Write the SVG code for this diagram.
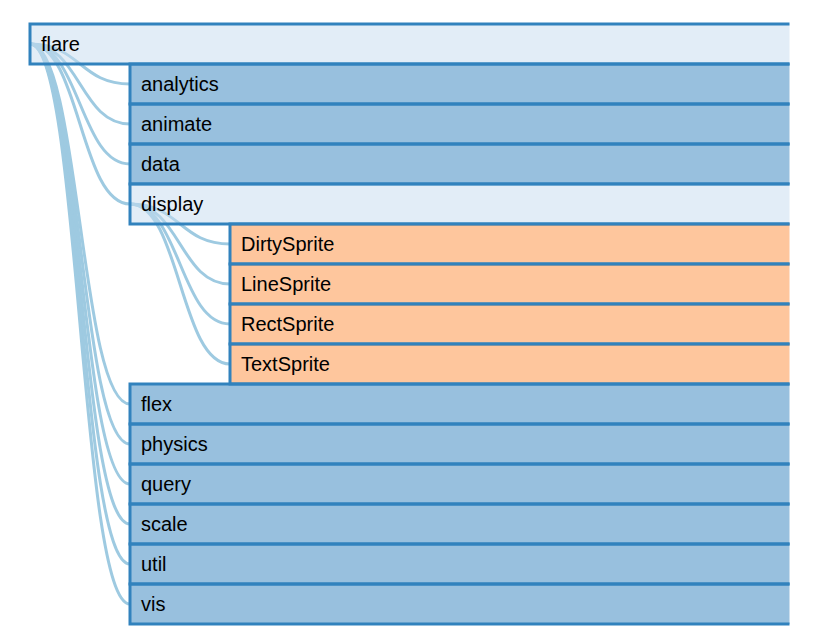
<svg xmlns="http://www.w3.org/2000/svg" width="816" height="642" viewBox="0 0 816 642">
<style>
.link{fill:none;stroke:#9ecae1;stroke-width:3}
.node rect{stroke:#3182bd;stroke-width:3;fill-opacity:0.5}
.exp rect{fill:#c6dbef}
.col rect{fill:#3182bd}
.leaf rect{fill:#fd8d3c}
.node text{font-family:"Liberation Sans",Arial,sans-serif;font-size:20px;fill:#000}
</style>
<defs>
<clipPath id="clip"><rect x="0" y="0" width="789.5" height="642"/></clipPath>
</defs>
<rect width="816" height="642" fill="#fff"/>
<g clip-path="url(#clip)">
<g id="links">
<path class="link" d="M30,44C80,44 80,84 130,84"/>
<path class="link" d="M30,44C80,44 80,124 130,124"/>
<path class="link" d="M30,44C80,44 80,164 130,164"/>
<path class="link" d="M30,44C80,44 80,204 130,204"/>
<path class="link" d="M130,204C180,204 180,244 230,244"/>
<path class="link" d="M130,204C180,204 180,284 230,284"/>
<path class="link" d="M130,204C180,204 180,324 230,324"/>
<path class="link" d="M130,204C180,204 180,364 230,364"/>
<path class="link" d="M30,44C80,44 80,404 130,404"/>
<path class="link" d="M30,44C80,44 80,444 130,444"/>
<path class="link" d="M30,44C80,44 80,484 130,484"/>
<path class="link" d="M30,44C80,44 80,524 130,524"/>
<path class="link" d="M30,44C80,44 80,564 130,564"/>
<path class="link" d="M30,44C80,44 80,604 130,604"/>
</g>
<g id="flare" class="node exp"><rect x="30" y="24" width="800" height="40"/><text x="41" y="51">flare</text></g>
<g id="analytics" class="node col"><rect x="130" y="64" width="700" height="40"/><text x="141" y="91">analytics</text></g>
<g id="animate" class="node col"><rect x="130" y="104" width="700" height="40"/><text x="141" y="131">animate</text></g>
<g id="data" class="node col"><rect x="130" y="144" width="700" height="40"/><text x="141" y="171">data</text></g>
<g id="display" class="node exp"><rect x="130" y="184" width="700" height="40"/><text x="141" y="211">display</text></g>
<g id="DirtySprite" class="node leaf"><rect x="230" y="224" width="600" height="40"/><text x="241" y="251">DirtySprite</text></g>
<g id="LineSprite" class="node leaf"><rect x="230" y="264" width="600" height="40"/><text x="241" y="291">LineSprite</text></g>
<g id="RectSprite" class="node leaf"><rect x="230" y="304" width="600" height="40"/><text x="241" y="331">RectSprite</text></g>
<g id="TextSprite" class="node leaf"><rect x="230" y="344" width="600" height="40"/><text x="241" y="371">TextSprite</text></g>
<g id="flex" class="node col"><rect x="130" y="384" width="700" height="40"/><text x="141" y="411">flex</text></g>
<g id="physics" class="node col"><rect x="130" y="424" width="700" height="40"/><text x="141" y="451">physics</text></g>
<g id="query" class="node col"><rect x="130" y="464" width="700" height="40"/><text x="141" y="491">query</text></g>
<g id="scale" class="node col"><rect x="130" y="504" width="700" height="40"/><text x="141" y="531">scale</text></g>
<g id="util" class="node col"><rect x="130" y="544" width="700" height="40"/><text x="141" y="571">util</text></g>
<g id="vis" class="node col"><rect x="130" y="584" width="700" height="40"/><text x="141" y="611">vis</text></g>
</g>
</svg>
